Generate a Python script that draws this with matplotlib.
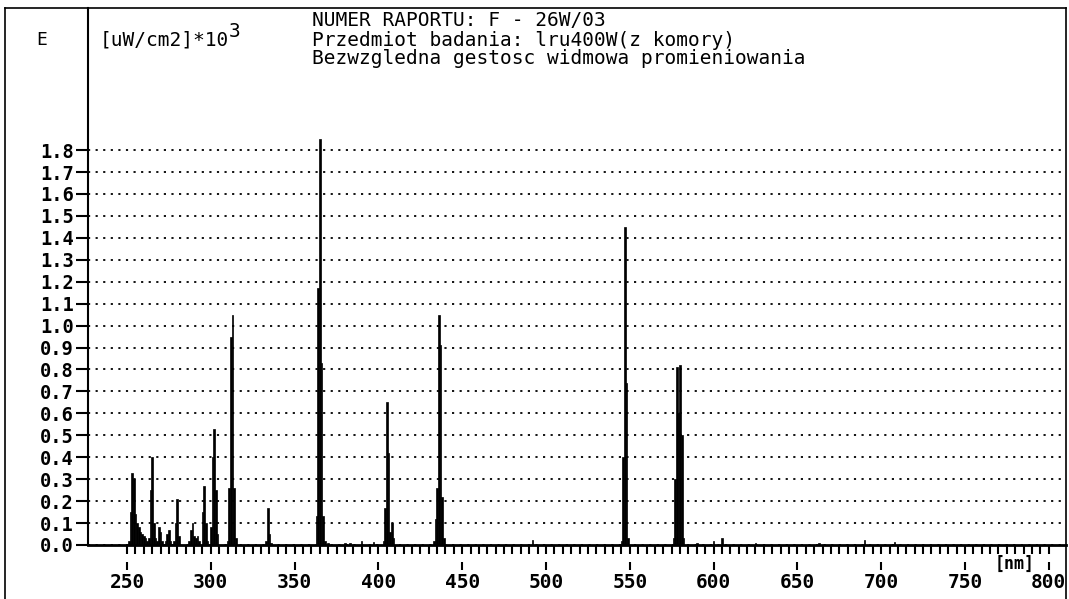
import matplotlib.pyplot as plt
from matplotlib.lines import Line2D

# spectrum, ~1 nm steps around each line
wavelength_nm = [
    251, 252, 253, 254, 255, 256, 257, 258, 259, 260, 261, 262, 263, 264, 265, 266, 267,
    268, 269, 270, 271, 273, 274, 275, 276, 278, 279, 280, 281, 287, 288, 289, 290, 291,
    292, 293, 295, 296, 297, 298, 300, 301, 302, 303, 304, 310, 311, 312, 313, 314, 315,
    333, 334, 335, 336,
    363, 364, 365, 366, 367, 368, 370, 380, 383, 390, 397,
    403, 404, 405, 406, 407, 408, 409,
    433, 434, 435, 436, 437, 438, 439,
    492,
    545, 546, 547, 548, 549,
    576, 577, 578, 579, 580, 581, 582,
    590, 600, 605, 625, 663, 690, 708,
]
irradiance = [
    0.02, 0.15, 0.33, 0.30, 0.14, 0.10, 0.08, 0.06, 0.05, 0.04, 0.03, 0.02, 0.03, 0.25, 0.40, 0.10, 0.03,
    0.02, 0.08, 0.06, 0.02, 0.02, 0.05, 0.07, 0.02, 0.02, 0.10, 0.21, 0.04, 0.02, 0.07, 0.10, 0.04, 0.03,
    0.04, 0.02, 0.15, 0.27, 0.10, 0.02, 0.08, 0.40, 0.53, 0.25, 0.05, 0.02, 0.26, 0.95, 1.05, 0.26, 0.03,
    0.02, 0.17, 0.05, 0.01,
    0.13, 1.17, 1.85, 0.83, 0.13, 0.02, 0.01, 0.01, 0.01, 0.02, 0.015,
    0.02, 0.17, 0.65, 0.42, 0.06, 0.10, 0.03,
    0.02, 0.12, 0.26, 1.05, 0.91, 0.22, 0.03,
    0.025,
    0.02, 0.40, 1.45, 0.74, 0.03,
    0.03, 0.30, 0.81, 0.60, 0.82, 0.50, 0.03,
    0.01, 0.02, 0.03, 0.01, 0.01, 0.025, 0.015,
]

y_ticks = [0.0, 0.1, 0.2, 0.3, 0.4, 0.5, 0.6, 0.7, 0.8, 0.9,
           1.0, 1.1, 1.2, 1.3, 1.4, 1.5, 1.6, 1.7, 1.8]
x_minor = list(range(250, 801, 5))
x_major = [250, 300, 350, 400, 450, 500, 550, 600, 650, 700, 750, 800]

title_lines = [
    "NUMER RAPORTU: F - 26W/03",
    "Przedmiot badania: lru400W(z komory)",
    "Bezwzgledna gestosc widmowa promieniowania",
]

W, H = 1069, 599
MONO = "DejaVu Sans Mono"
TOP_PX = 8      # top edge of the page frame / y axis
BASE_PX = 545   # pixel row of the zero line
AX_H = BASE_PX - TOP_PX
Y_TOP = AX_H / 219.4  # ~219 px per unit on the scan


def fx(px):
    return px / W


def fy(py):
    return 1 - py / H


fig = plt.figure(figsize=(W / 100, H / 100), dpi=100)
fig.patch.set_facecolor("white")

ax = fig.add_axes([fx(88), fy(BASE_PX), fx(1066) - fx(88), fy(TOP_PX) - fy(BASE_PX)])
ax.set_xlim(226.7, 810.3)
ax.set_ylim(0, Y_TOP)

ax.bar(wavelength_nm, irradiance, width=1.0, color="black",
       edgecolor="black", linewidth=0.5)

for side in ("top", "right"):
    ax.spines[side].set_visible(False)
ax.spines["left"].set_linewidth(1.5)
ax.spines["bottom"].set_linewidth(2.0)

ax.set_yticks(y_ticks)
ax.set_yticklabels([f"{v:.1f}" for v in y_ticks], fontfamily=MONO,
                   fontweight="bold", fontsize=13.5)
ax.tick_params(axis="y", length=9, width=1.5, pad=1)
ax.yaxis.grid(True, color="black", linestyle=(0, (1.2, 3.0)), linewidth=1.3)
ax.set_axisbelow(True)

ax.set_xticks(x_minor)
ax.set_xticklabels([])
ax.tick_params(axis="x", length=6.5, width=1.5, direction="out")

sec = ax.secondary_xaxis(-17 / AX_H)
sec.set_xticks(x_major)
sec.set_xticklabels([str(v) for v in x_major], fontfamily=MONO,
                    fontweight="bold", fontsize=14)
sec.tick_params(axis="x", length=6, width=1.5, pad=2)
sec.spines["bottom"].set_visible(False)

ax.text(768, -19 / AX_H * Y_TOP, "[nm]", fontfamily=MONO, fontweight="bold",
        fontsize=12, ha="left", va="center", clip_on=False)

# header texts
fig.text(fx(42), fy(40), "E", fontfamily=MONO, fontsize=13, ha="center", va="center")
unit = fig.text(fx(100), fy(40), "[uW/cm2]*10", fontfamily=MONO, fontsize=14,
                ha="left", va="center")
ax.annotate("3", xy=(1.0, 0.45), xycoords=unit, fontfamily=MONO, fontsize=14,
            ha="left", va="bottom", annotation_clip=False)
for text, py in zip(title_lines, [21, 40, 59]):
    fig.text(fx(312), fy(py), text, fontfamily=MONO, fontsize=14,
             ha="left", va="center")

# outer frame of the report page
for xs, ys in [((5, 5), (TOP_PX, 599)), ((5, 1066), (TOP_PX, TOP_PX)),
               ((1066, 1066), (TOP_PX, 599))]:
    fig.add_artist(Line2D([fx(x) for x in xs], [fy(y) for y in ys],
                          color="black", linewidth=1.2))

fig.savefig("out.png", dpi=100)
